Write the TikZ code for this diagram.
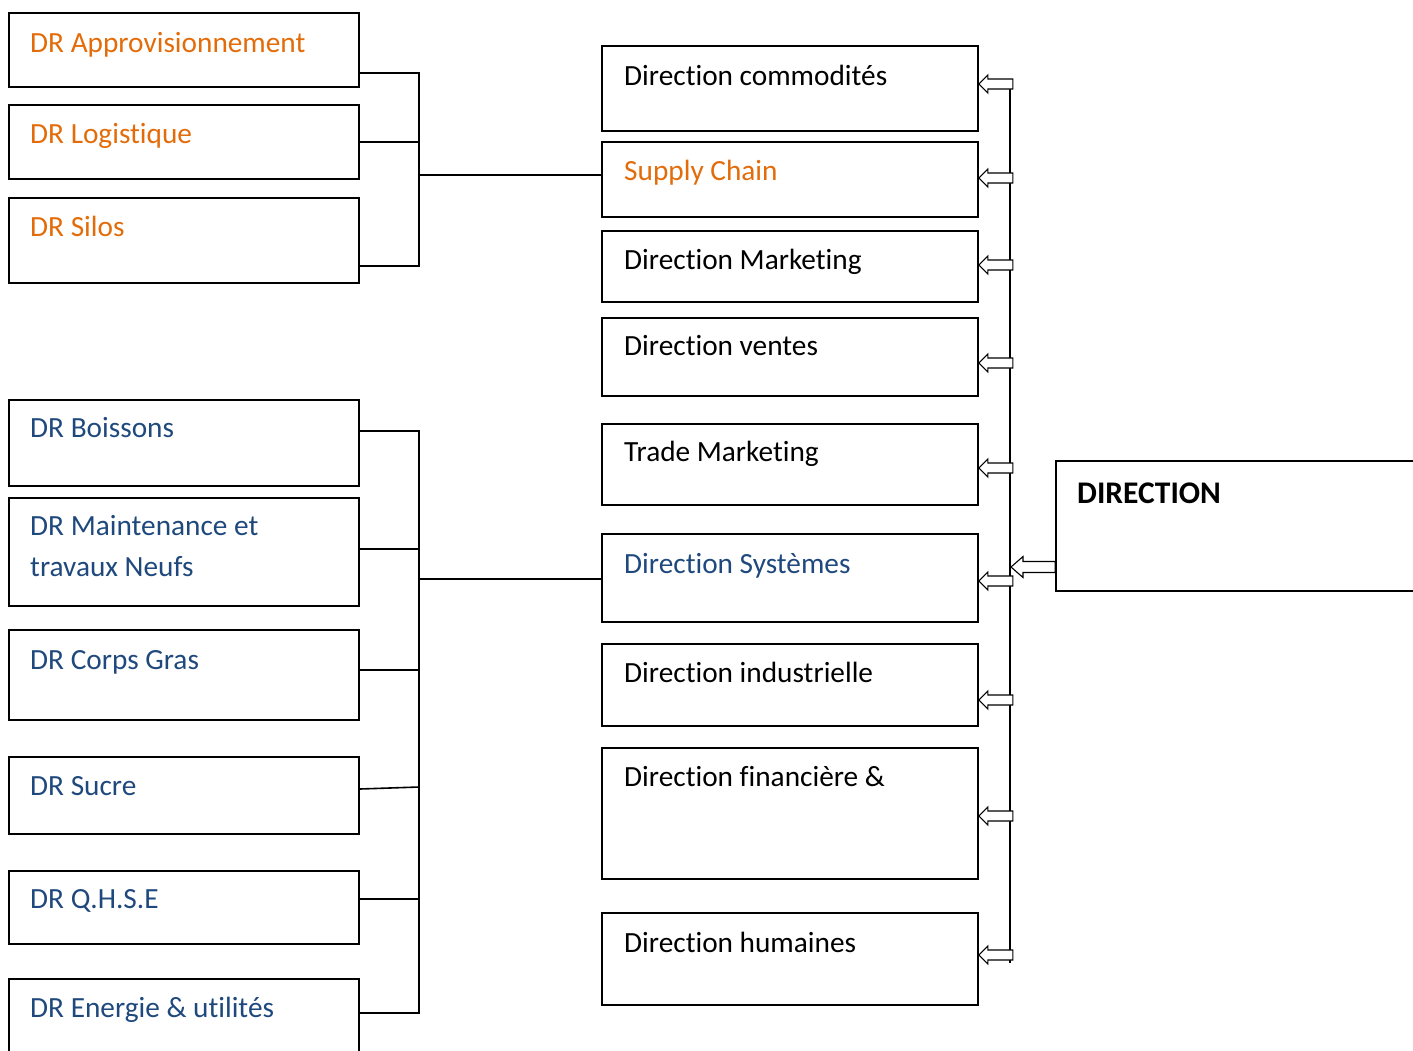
\documentclass[tikz,border=0pt]{standalone}
\usepackage{fontspec}
\setmainfont[Ligatures={NoCommon,TeX}]{Carlito}
\usetikzlibrary{calc}
\definecolor{orng}{HTML}{E36C0A}
\definecolor{dblue}{HTML}{1F497D}
\tikzset{
  bx/.style={draw=black, line width=1.6pt, rectangle, inner sep=0pt},
  lbx/.style={bx, minimum width=350pt},
  mbx/.style={bx, minimum width=376pt},
  txt/.style={anchor=base west, inner sep=0pt, font=\fontsize{29.3}{40}\selectfont},
  orgt/.style={txt, text=orng},
  blut/.style={txt, text=dblue},
  blkt/.style={txt, text=black},
  conn/.style={line width=1.6pt, draw=black},
  arr/.style={line width=1.1pt, draw=black, fill=white, line join=miter},
}
\newcommand\blockarrow[1]{%
  \draw[arr] (#1) -- ++(9,-9) -- ++(0,4) -- ++(25,0) -- ++(0,10) -- ++(-25,0) -- ++(0,4) -- cycle;}
\begin{document}
\begin{tikzpicture}[x=1pt,y=-1pt]
\useasboundingbox (0,0) rectangle (1413,1050);
\clip (0,0) rectangle (1413,1050);

% left boxes
\node[lbx, minimum height=74pt] (appro) at (184,50) {};
\node[lbx, minimum height=74pt] (logi) at (184,142) {};
\node[lbx, minimum height=85pt] (silos) at (184,240.5) {};
\node[lbx, minimum height=86pt] (boiss) at (184,443) {};
\node[lbx, minimum height=108pt] (maint) at (184,552) {};
\node[lbx, minimum height=90pt] (corps) at (184,675) {};
\node[lbx, minimum height=77pt] (sucre) at (184,795.5) {};
\node[lbx, minimum height=73pt] (qhse) at (184,907.5) {};
\node[lbx, minimum height=91pt] (energ) at (184,1024.5) {};

\node[orgt] at (30,52) {DR Approvisionnement};
\node[orgt] at (30,143) {DR Logistique};
\node[orgt] at (30,236) {DR Silos};
\node[blut] at (30,437) {DR Boissons};
\node[blut] at (30,535) {DR Maintenance et};
\node[blut] at (30,576) {travaux Neufs};
\node[blut] at (30,669) {DR Corps Gras};
\node[blut] at (30,795) {DR Sucre};
\node[blut] at (30,908) {DR Q.H.S.E};
\node[blut] at (30,1017) {DR Energie \& utilités};

% middle boxes
\node[mbx, minimum height=85pt] (commo) at (790,88.5) {};
\node[mbx, minimum height=75pt] (supply) at (790,179.5) {};
\node[mbx, minimum height=71pt] (mark) at (790,266.5) {};
\node[mbx, minimum height=78pt] (vent) at (790,357) {};
\node[mbx, minimum height=81pt] (trade) at (790,464.5) {};
\node[mbx, minimum height=88pt] (syst) at (790,578) {};
\node[mbx, minimum height=82pt] (indus) at (790,685) {};
\node[mbx, minimum height=131pt] (fin) at (790,813.5) {};
\node[mbx, minimum height=92pt] (hum) at (790,959) {};

\node[blkt] at (624,85) {Direction commodités};
\node[orgt] at (624,180) {Supply Chain};
\node[blkt] at (624,269) {Direction Marketing};
\node[blkt] at (624,355) {Direction ventes};
\node[blkt] at (624,461) {Trade Marketing};
\node[blut] at (624,573) {Direction Systèmes};
\node[blkt] at (624,682) {Direction industrielle};
\node[blkt] at (624,786) {Direction financière \&};
\node[blkt] at (624,952) {Direction humaines};

% direction box
\node[bx, minimum width=384pt, minimum height=130pt] (dir) at (1248,526) {};
\node[blkt, font=\fontsize{31.5}{40}\selectfont\bfseries] at (1077,503) {DIRECTION};

% top bracket
\coordinate (tj) at (419,175);
\draw[conn] ($(appro.east)+(0,23)$) -- (419,73) -- (419,266) -- ($(silos.east)+(0,25.5)$);
\draw[conn] (logi.east) -- (logi.east -| tj);
\draw[conn] (tj) -- (tj -| supply.west);

% bottom bracket
\coordinate (bj) at (419,579);
\draw[conn] ($(boiss.east)+(0,-12)$) -- (419,431) -- (419,1013) -- ($(energ.east)+(0,-11.5)$);
\draw[conn] ($(maint.east)+(0,-3)$) -- (419,549);
\draw[conn] ($(corps.east)+(0,-5)$) -- (419,670);
\draw[conn] ($(sucre.east)+(0,-6.5)$) -- (419,787);
\draw[conn] ($(qhse.east)+(0,-8.5)$) -- (419,899);
\draw[conn] (bj) -- (bj -| syst.west);

% right spine
\draw[line width=1.4pt] (1010,80) -- (1010,963);
\blockarrow{$(commo.east)+(0,-4.5)$}
\blockarrow{$(supply.east)+(0,-1.5)$}
\blockarrow{$(mark.east)+(0,-1.5)$}
\blockarrow{$(vent.east)+(0,6)$}
\blockarrow{$(trade.east)+(0,3.5)$}
\blockarrow{$(syst.east)+(0,3)$}
\blockarrow{$(indus.east)+(0,15)$}
\blockarrow{$(fin.east)+(0,2.5)$}
\blockarrow{$(hum.east)+(0,-4)$}

% arrow from direction
\draw[arr] ($(dir.west)+(0,35.5)$) -- (1023,561.5) -- (1023,556.5) -- (1011,567) -- (1023,577.5) -- (1023,572.5) -- ($(dir.west)+(0,46.5)$) -- cycle;
\end{tikzpicture}
\end{document}
